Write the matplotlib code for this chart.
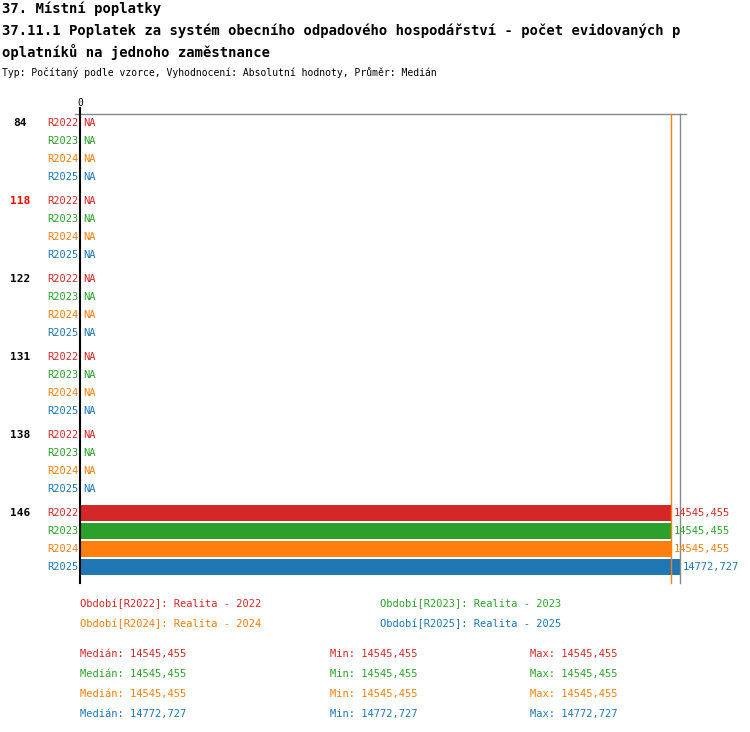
import matplotlib
matplotlib.use("Agg")
import matplotlib.pyplot as plt

groups = ["84", "118", "122", "131", "138", "146"]
group_colors = ["black", "red", "black", "black", "black", "black"]
periods = ["R2022", "R2023", "R2024", "R2025"]
colors = ["#d62728", "#2ca02c", "#ff7f0e", "#1f77b4"]
values_146 = [14545.455, 14545.455, 14545.455, 14772.727]
value_labels = ["14545,455", "14545,455", "14545,455", "14772,727"]
median_all = 14545.455
max_all = 14772.727
legend = ["Období[R2022]: Realita - 2022", "Období[R2023]: Realita - 2023",
          "Období[R2024]: Realita - 2024", "Období[R2025]: Realita - 2025"]
stats_med = ["14545,455", "14545,455", "14545,455", "14772,727"]
stats_min = ["14545,455", "14545,455", "14545,455", "14772,727"]
stats_max = ["14545,455", "14545,455", "14545,455", "14772,727"]

W, H = 750, 732
fig = plt.figure(figsize=(W/100, H/100), dpi=100)
FONT = "DejaVu Sans Mono"

def ftext(x, y, s, **kw):
    kw.setdefault("family", FONT)
    fig.text(x/W, 1 - y/H, s, va="center", **kw)

# axes: x px 80..686, y px 100..585
ax = fig.add_axes([80/W, 1 - 585/H, 606/W, 485/H])
scale = max_all / 600.0
ax.set_xlim(0, 606*scale)
ax.set_ylim(585, 100)
ax.axis("off")

ax.plot([-5*scale, 606*scale], [114, 114], color="#888888", lw=1, clip_on=False)
ax.plot([0, 0], [108, 583], color="black", lw=1.5, clip_on=False)
ax.plot([median_all]*2, [114, 583], color="#ff7f0e", lw=1)
ax.plot([max_all]*2, [114, 583], color="#888888", lw=1)
ax.text(0, 103, "0", ha="center", va="center", fontsize=7, family=FONT)

for g, (name, gc) in enumerate(zip(groups, group_colors)):
    y0 = 123 + 78*g
    ftext(20, y0, name, ha="center", fontsize=8, fontweight="bold", color=gc)
    for i, (p, c) in enumerate(zip(periods, colors)):
        y = y0 + 18*i
        ftext(78, y, p, ha="right", fontsize=7.5, color=c)
        if name == "146":
            ax.barh(y, values_146[i], height=16, color=c)
            ax.text(values_146[i] + 3*scale, y, value_labels[i], va="center",
                    fontsize=7.5, family=FONT, color=c)
        else:
            ax.text(3*scale, y, "NA", va="center", fontsize=7.5, family=FONT, color=c)

ftext(2, 9, "37. Místní poplatky", fontsize=10, fontweight="bold")
ftext(2, 31, "37.11.1 Poplatek za systém obecního odpadového hospodářství - počet evidovaných p",
      fontsize=10, fontweight="bold")
ftext(2, 52, "oplatníků na jednoho zaměstnance", fontsize=10, fontweight="bold")
ftext(2, 73, "Typ: Počítaný podle vzorce, Vyhodnocení: Absolutní hodnoty, Průměr: Medián", fontsize=7)

pos = [(80, 604), (380, 604), (80, 624), (380, 624)]
for (x, y), s, c in zip(pos, legend, colors):
    ftext(x, y, s, fontsize=7.5, color=c)
for i, c in enumerate(colors):
    y = 654 + 20*i
    ftext(80, y, "Medián: " + stats_med[i], fontsize=7.5, color=c)
    ftext(330, y, "Min: " + stats_min[i], fontsize=7.5, color=c)
    ftext(530, y, "Max: " + stats_max[i], fontsize=7.5, color=c)

fig.savefig("out.png", dpi=100)
